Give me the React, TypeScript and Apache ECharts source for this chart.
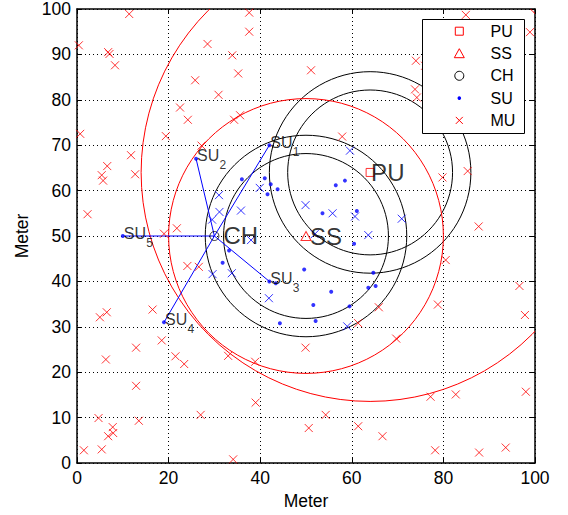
import React, { useEffect, useRef } from "react";
import * as echarts from "echarts";

// ---------------- data ----------------
const xTicksInterval = 20;
const yTicksInterval = 10;

const puPoint: [number, number][] = [[64, 64]];
const ssPoint: [number, number][] = [[50, 50]];
const chPoint: [number, number][] = [[30, 50]];

// SUs linked to the cluster head (labelled SU1..SU5)
const suLinked: [number, number][] = [[42, 70], [26, 67], [42, 40], [19, 31], [10, 50]];
const suSubscripts = ["1", "2", "3", "4", "5"];

const suOthers: [number, number][] = [
  [36.0, 62.5], [41.0, 62.7], [42.3, 61.4], [43.8, 60.3], [41.6, 59.2], [56.5, 61.2],
  [58.5, 62.2], [53.6, 55.0], [61.1, 55.5], [60.5, 48.3], [33.2, 46.8], [31.8, 44.1],
  [49.6, 42.6], [64.7, 41.9], [55.5, 37.7], [63.6, 38.6], [65.2, 39.0], [51.6, 34.8],
  [59.5, 34.5], [52.1, 31.3], [44.3, 30.8], [43.4, 39.6],
];

const muPoints: [number, number][] = [
  [11.4, 98.9], [37.6, 99.2], [37.6, 95.0], [0.4, 92.0], [6.8, 90.5], [7.1, 90.1], [8.3, 87.6],
  [28.5, 92.3], [33.9, 89.8], [35.2, 85.8], [25.8, 84.3], [30.9, 81.1], [22.5, 78.3], [24.2, 75.6],
  [35.6, 76.6], [34.3, 75.6], [19.4, 72.0], [0.7, 72.5], [27.2, 69.9], [11.8, 67.8], [12.7, 63.6],
  [6.6, 65.4], [5.4, 63.4], [5.7, 62.2], [2.3, 54.8], [19.0, 50.5], [21.8, 51.7],
  [84.9, 98.7], [98.9, 94.9], [51.1, 86.5], [74.0, 88.6], [76.0, 87.5], [73.8, 82.3], [74.2, 80.5],
  [57.9, 71.9], [79.8, 62.9], [85.3, 64.3], [87.7, 52.1],
  [24.1, 43.4], [26.6, 43.2], [5.0, 32.1], [6.5, 33.2], [16.5, 33.8], [18.5, 27.0], [12.9, 25.4],
  [6.3, 22.8], [21.5, 23.5], [23.4, 21.8], [33.0, 23.6], [38.9, 22.3], [12.9, 17.0], [39.0, 13.3],
  [4.7, 9.9], [13.5, 9.3], [27.0, 10.6], [7.8, 7.9], [6.8, 5.9], [7.9, 6.6], [1.5, 2.8], [5.4, 3.0],
  [34.1, 0.8], [49.9, 25.4], [50.6, 7.7],
  [80.5, 44.7], [96.6, 39.0], [97.8, 32.6], [78.8, 34.9], [65.9, 34.3], [61.4, 30.8], [69.7, 27.4],
  [77.2, 14.6], [82.7, 15.1], [98.0, 15.7], [54.3, 10.6], [61.4, 8.1], [66.7, 5.9], [78.2, 2.8],
  [87.8, 2.3], [93.6, 3.4],
];

// MUs inside the cluster range (drawn blue)
const muInRange: [number, number][] = [
  [31.0, 59.0], [31.1, 55.3], [29.5, 53.6], [35.8, 55.6], [39.9, 60.6], [49.9, 56.8], [59.6, 68.8],
  [55.8, 55.0], [60.7, 54.3], [70.9, 53.8], [63.6, 50.2], [51.9, 50.4], [38.0, 49.1], [29.6, 41.6],
  [33.8, 41.8], [41.9, 36.3], [59.0, 30.1],
];

// circles: centre x, centre y, radius
const blackRings: [number, number, number][] = [
  [64, 64, 18], [64, 64, 22], [50, 50, 18], [50, 50, 22],
];
const redRings: [number, number, number][] = [
  [64, 64, 50], [50, 50, 30],
];

const nodeLabelNames = ["CH", "SS", "PU"];
const nodeLabelPoints: [number, number][] = [[30, 50], [50, 50], [64, 64]];

const legendNames = ["PU", "SS", "CH", "SU", "MU"];

// ---------------- styles ----------------
const FONT = '"Liberation Sans", Arial, Helvetica, sans-serif';
const RED = "#ff0000";
const BLUE = "#0000ff";
const BLACK = "#000000";
const X_PATH = "path://M0,0L10,10M10,0L0,10";
const nodeLabelOffsets = [[9, -0.5], [4, 0], [1, 0.5]];

// legend box layout (pixels)
const LEG = { x: 422.5, y: 19.5, w: 102, h: 114, iconX: 459.3, textX: 490.5, row0: 31.2, rowStep: 22.3 };

function legendIcon(name: string, cy: number): any {
  const cx = LEG.iconX;
  const z = 101;
  if (name === "PU")
    return { type: "rect", z, shape: { x: cx - 4, y: cy - 4, width: 8, height: 8 }, style: { fill: "none", stroke: RED, lineWidth: 1 } };
  if (name === "SS")
    return {
      type: "polygon", z,
      shape: { points: [[cx, cy - 4.8], [cx + 5, cy + 4.2], [cx - 5, cy + 4.2]] },
      style: { fill: "none", stroke: RED, lineWidth: 1 },
    };
  if (name === "CH")
    return { type: "circle", z, shape: { cx, cy, r: 4.5 }, style: { fill: "none", stroke: BLACK, lineWidth: 1 } };
  if (name === "SU")
    return { type: "circle", z, shape: { cx, cy, r: 1.8 }, style: { fill: BLUE } };
  return {
    type: "group", z,
    children: [
      { type: "line", z, shape: { x1: cx - 3.5, y1: cy - 3.5, x2: cx + 3.5, y2: cy + 3.5 }, style: { stroke: RED, lineWidth: 1 } },
      { type: "line", z, shape: { x1: cx + 3.5, y1: cy - 3.5, x2: cx - 3.5, y2: cy + 3.5 }, style: { stroke: RED, lineWidth: 1 } },
    ],
  };
}

function buildLegend(): any[] {
  const els: any[] = [
    {
      type: "rect", z: 100,
      shape: { x: LEG.x, y: LEG.y, width: LEG.w, height: LEG.h },
      style: { fill: "#ffffff", stroke: BLACK, lineWidth: 1 },
    },
  ];
  legendNames.forEach((n, i) => {
    const cy = LEG.row0 + i * LEG.rowStep;
    els.push(legendIcon(n, cy));
    els.push({
      type: "text", z: 101,
      style: { text: n, x: LEG.textX, y: cy, textAlign: "left", textVerticalAlign: "middle", fontSize: 16, fontFamily: FONT, fill: BLACK },
    });
  });
  return els;
}

function ringSeries(name: string, rings: [number, number, number][], color: string) {
  return {
    type: "custom",
    name,
    coordinateSystem: "cartesian2d",
    clip: true,
    silent: true,
    z: 1,
    encode: { x: 0, y: 1 },
    data: rings,
    renderItem: (_params: any, api: any) => {
      const c = api.coord([api.value(0), api.value(1)]);
      const r = api.size([api.value(2), 0])[0];
      return {
        type: "circle",
        shape: { cx: c[0], cy: c[1], r },
        style: { fill: "none", stroke: color, lineWidth: 1 },
      };
    },
  };
}

function buildOption() {
  const axisBase = {
    type: "value",
    min: 0,
    max: 100,
    axisLine: { show: true, onZero: false, lineStyle: { color: BLACK, width: 1.5 } },
    axisTick: { show: true, inside: true, length: 5, lineStyle: { color: BLACK, width: 1 } },
    axisLabel: { color: BLACK, fontSize: 17.5, fontFamily: FONT },
    nameTextStyle: { color: BLACK, fontSize: 17.5, fontFamily: FONT },
    splitLine: { show: false },
  };
  const gridLine = { show: true, lineStyle: { color: "#000", width: 1, type: [1, 3] } };

  const spokes = suLinked.map((p, i) => ({
    type: "line",
    name: "link" + i,
    data: [chPoint[0], p],
    symbol: "none",
    silent: true,
    z: 2,
    lineStyle: { color: BLUE, width: 1 },
  }));

  return {
    animation: false,
    grid: { left: 77, right: 33, top: 9, bottom: 47.5, containLabel: false },
    xAxis: [
      {
        ...axisBase,
        position: "bottom",
        interval: xTicksInterval,
        axisLabel: { ...axisBase.axisLabel, margin: 6 },
        splitLine: gridLine,
        name: "Meter",
        nameLocation: "middle",
        nameGap: 29,
      },
      { ...axisBase, position: "top", interval: xTicksInterval, axisLabel: { show: false } },
    ],
    yAxis: [
      {
        ...axisBase,
        position: "left",
        interval: yTicksInterval,
        axisLabel: { ...axisBase.axisLabel, margin: 6 },
        splitLine: gridLine,
        name: "Meter",
        nameLocation: "middle",
        nameGap: 46,
      },
      { ...axisBase, position: "right", interval: yTicksInterval, axisLabel: { show: false } },
    ],
    graphic: buildLegend(),
    series: [
      ringSeries("blackRings", blackRings, BLACK),
      ringSeries("redRings", redRings, RED),
      ...spokes,
      {
        type: "scatter",
        name: "MU",
        data: muPoints,
        symbol: X_PATH,
        symbolSize: 8,
        z: 3,
        itemStyle: { color: "transparent", borderColor: RED, borderWidth: 1 },
      },
      {
        type: "scatter",
        name: "MUin",
        data: muInRange,
        symbol: X_PATH,
        symbolSize: 8,
        z: 3,
        itemStyle: { color: "transparent", borderColor: BLUE, borderWidth: 1 },
      },
      {
        type: "scatter",
        name: "SU",
        data: [...suLinked, ...suOthers],
        symbol: "circle",
        symbolSize: 4,
        z: 3,
        itemStyle: { color: BLUE, borderWidth: 0 },
      },
      {
        type: "scatter",
        name: "PU",
        data: puPoint,
        symbol: "rect",
        symbolSize: 8,
        z: 3,
        itemStyle: { color: "transparent", borderColor: RED, borderWidth: 1 },
      },
      {
        type: "scatter",
        name: "SS",
        data: ssPoint,
        symbol: "triangle",
        symbolSize: [10, 9],
        z: 3,
        itemStyle: { color: "transparent", borderColor: RED, borderWidth: 1 },
      },
      {
        type: "scatter",
        name: "CH",
        data: chPoint,
        symbol: "circle",
        symbolSize: 9,
        z: 3,
        itemStyle: { color: "transparent", borderColor: BLACK, borderWidth: 1 },
      },
      {
        type: "scatter",
        name: "suText",
        data: suLinked,
        symbol: "circle",
        symbolSize: 1,
        silent: true,
        z: 5,
        itemStyle: { color: "transparent" },
        label: {
          show: true,
          position: "inside",
          align: "left",
          verticalAlign: "middle",
          offset: [1, -3],
          formatter: () => "SU",
          fontSize: 16,
          fontFamily: FONT,
          color: BLACK,
        },
      },
      {
        type: "scatter",
        name: "suSub",
        data: suLinked,
        symbol: "circle",
        symbolSize: 1,
        silent: true,
        z: 5,
        itemStyle: { color: "transparent" },
        label: {
          show: true,
          position: "inside",
          align: "left",
          verticalAlign: "middle",
          offset: [23.5, 6.5],
          formatter: (p: any) => suSubscripts[p.dataIndex],
          fontSize: 12,
          fontFamily: FONT,
          color: BLACK,
        },
      },
      {
        type: "scatter",
        name: "nodeText",
        data: nodeLabelPoints.map((p, i) => ({
          value: p,
          name: nodeLabelNames[i],
          label: { offset: nodeLabelOffsets[i] },
        })),
        symbol: "circle",
        symbolSize: 1,
        silent: true,
        z: 5,
        itemStyle: { color: "transparent" },
        label: {
          show: true,
          position: "inside",
          align: "left",
          verticalAlign: "middle",
          formatter: "{b}",
          fontSize: 24,
          fontFamily: FONT,
          color: BLACK,
        },
      },
    ],
  };
}

export default function App() {
  const ref = useRef<HTMLDivElement>(null);
  useEffect(() => {
    document.body.style.margin = "0";
    const chart = echarts.init(ref.current!, null, { renderer: "svg" });
    chart.setOption(buildOption() as any);
    return () => chart.dispose();
  }, []);
  return <div ref={ref} style={{ width: 568, height: 515, background: "#fff" }} />;
}
